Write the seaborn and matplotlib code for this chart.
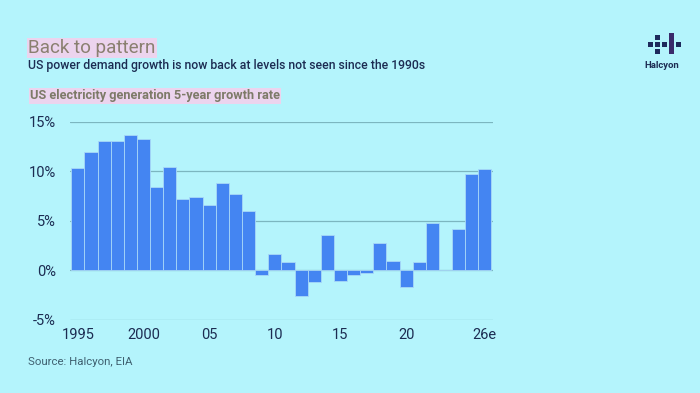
import matplotlib
matplotlib.use("Agg")
import matplotlib.pyplot as plt
from matplotlib.patches import Rectangle
import seaborn as sns
import pandas as pd

years = [str(y) for y in range(1995, 2027)]
growth = [10.3, 12.0, 13.1, 13.1, 13.7, 13.3, 8.4, 10.4, 7.2, 7.4, 6.6, 8.8,
          7.7, 6.0, -0.5, 1.7, 0.8, -2.6, -1.2, 3.6, -1.1, -0.5, -0.3, 2.8,
          0.9, -1.7, 0.8, 4.8, 0.05, 4.2, 9.7, 10.2]
tick_pos = [0, 5, 10, 15, 20, 25, 31]
tick_labels = ["1995", "2000", "05", "10", "15", "20", "26e"]
y_ticks = [-5, 0, 5, 10, 15]

bg = "#b4f4fc"
bar_color = "#4485f2"
navy = "#1c2c52"
grid_color = "#7cb6c0"

df = pd.DataFrame({"Year": years, "Growth": growth})

sns.set_style("white")
plt.rcParams['font.family'] = ['Roboto', 'DejaVu Sans']

fig = plt.figure(figsize=(7, 3.93), dpi=100, facecolor=bg)
ax = fig.add_axes([0.1, 0.186, 0.604, 0.504])
ax.set_facecolor(bg)

sns.barplot(data=df, x="Year", y="Growth", color=bar_color, width=1.0,
            edgecolor="#a8d8f8", linewidth=0.6, saturation=1, ax=ax)

ax.set_ylim(-5, 15)
ax.set_xlim(-0.6, 31.6)
ax.set_yticks(y_ticks)
ax.set_yticklabels(["{0}%".format(v) for v in y_ticks])
ax.set_xticks(tick_pos)
ax.set_xticklabels(tick_labels)
ax.grid(axis="y", color=grid_color, linewidth=0.9)
ax.set_axisbelow(True)
ax.set_xlabel("")
ax.set_ylabel("")
for s in ax.spines.values():
    s.set_visible(False)
ax.tick_params(axis="both", length=0, labelsize=10.5, labelcolor=navy)
ax.tick_params(axis="y", pad=10)
ax.tick_params(axis="x", pad=6)

# Header texts
fig.text(28 / 700, 1 - 48 / 393, "Back to pattern", fontsize=13.6, color="#8a8070",
         va="center", ha="left",
         bbox=dict(facecolor="#ecd4ee", edgecolor="none", pad=1.0))
fig.text(28 / 700, 1 - 66 / 393, "US power demand growth is now back at levels not seen since the 1990s",
         fontsize=8.8, color=navy, fontweight="medium", va="center", ha="left")
fig.text(30 / 700, 1 - 96 / 393, "US electricity generation 5-year growth rate",
         fontsize=9.2, color="#7d7a68", fontweight="bold", va="center", ha="left",
         bbox=dict(facecolor="#ecd4ee", edgecolor="none", pad=1.0))
fig.text(28 / 700, 1 - 362 / 393, "Source: Halcyon, EIA", fontsize=8.2,
         color="#3f6070", va="center", ha="left")

# Logo
sq = 5
cells = [(0, 1), (0, 3), (1, 0), (1, 1), (1, 2), (1, 4), (2, 1), (2, 3)]
for r, c in cells:
    x0 = 648 + c * 7
    y0 = 35 + r * 7
    fig.patches.append(Rectangle((x0 / 700, 1 - (y0 + sq) / 393), sq / 700, sq / 393,
                                 transform=fig.transFigure, facecolor="#1e2a5c",
                                 edgecolor="none"))
fig.patches.append(Rectangle((669 / 700, 1 - 54 / 393), 5 / 700, 21 / 393,
                             transform=fig.transFigure, facecolor="#3a2a6a",
                             edgecolor="none"))
fig.text(662 / 700, 1 - 65 / 393, "Halcyon", fontsize=6.8, color=navy,
         fontweight="bold", ha="center", va="center")

fig.savefig("out.png", dpi=100, facecolor=bg)
